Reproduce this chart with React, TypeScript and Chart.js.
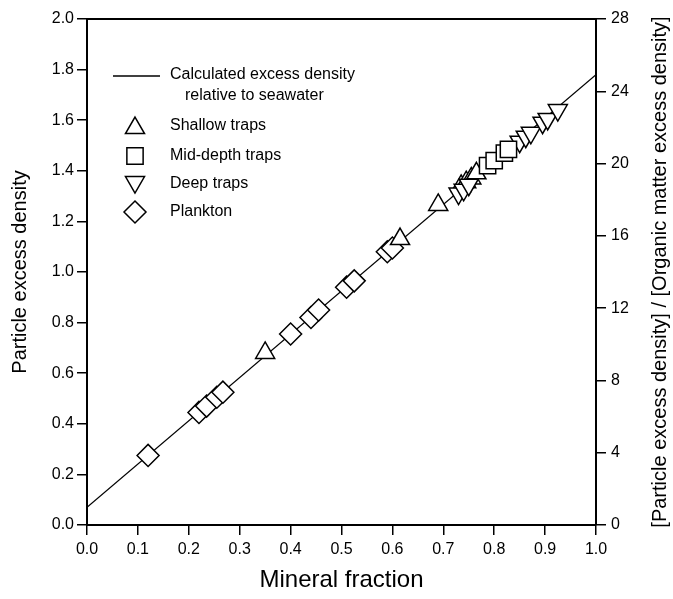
import React, { useEffect, useRef } from "react";
import { Chart, registerables } from "chart.js";

Chart.register(...registerables);

const FONT = "'Liberation Sans', Arial, Helvetica, sans-serif";

// Calculated excess density relative to seawater (straight line)
const fitX = [0, 1];
const fitY = [0.07, 1.78];

// Shallow traps
const shallowX = [0.35, 0.615, 0.69, 0.735, 0.745, 0.755, 0.765];
const shallowY = [0.68, 1.13, 1.265, 1.34, 1.355, 1.37, 1.39];

// Mid-depth traps
const midX = [0.787, 0.8, 0.82, 0.828];
const midY = [1.42, 1.44, 1.47, 1.485];

// Deep traps
const deepX = [0.73, 0.74, 0.75, 0.85, 0.862, 0.872, 0.895, 0.905, 0.925];
const deepY = [1.31, 1.325, 1.345, 1.515, 1.535, 1.55, 1.59, 1.605, 1.64];

// Plankton
const planktonX = [0.12, 0.22, 0.235, 0.255, 0.267, 0.4, 0.44, 0.455, 0.51, 0.525, 0.59, 0.6];
const planktonY = [0.275, 0.445, 0.47, 0.505, 0.525, 0.755, 0.82, 0.85, 0.94, 0.965, 1.08, 1.095];

// Axis ranges and labels
const xRange = [0, 1];
const xStep = 0.1;
const yRange = [0, 2];
const yStep = 0.2;
const ratioRange = [0, 28];
const ratioStep = 4;

const xTitle = "Mineral fraction";
const yTitle = "Particle excess density";
const ratioTitle = "[Particle excess density] / [Organic matter excess density]";

const legendLine = ["Calculated excess density", "relative to seawater"];
const legendMarks = ["Shallow traps", "Mid-depth traps", "Deep traps", "Plankton"];

const toPoints = (xs: number[], ys: number[]) => xs.map((x, i) => ({ x, y: ys[i] }));

function drawSymbol(ctx: CanvasRenderingContext2D, kind: string, x: number, y: number, r: number) {
  ctx.beginPath();
  if (kind === "up" || kind === "down") {
    const start = kind === "up" ? 0 : Math.PI;
    for (let k = 0; k < 3; k++) {
      const a = start + (k * 2 * Math.PI) / 3;
      const px = x + Math.sin(a) * r;
      const py = y - Math.cos(a) * r;
      if (k === 0) ctx.moveTo(px, py);
      else ctx.lineTo(px, py);
    }
  } else if (kind === "square") {
    const s = r * Math.SQRT1_2;
    ctx.rect(x - s, y - s, 2 * s, 2 * s);
  } else {
    ctx.moveTo(x, y - r);
    ctx.lineTo(x + r, y);
    ctx.lineTo(x, y + r);
    ctx.lineTo(x - r, y);
  }
  ctx.closePath();
  ctx.fillStyle = "#fff";
  ctx.fill();
  ctx.stroke();
}

const decorations = {
  id: "decorations",
  afterDraw(chart: any) {
    const { ctx, chartArea } = chart;
    const { left, right, top, bottom } = chartArea;
    ctx.save();

    // top frame line
    ctx.strokeStyle = "#000";
    ctx.lineWidth = 2;
    ctx.beginPath();
    ctx.moveTo(left - 1, top);
    ctx.lineTo(right + 1, top);
    ctx.stroke();

    // right-hand axis title, reading upward
    ctx.save();
    ctx.translate(right + 64, (top + bottom) / 2);
    ctx.rotate(-Math.PI / 2);
    ctx.fillStyle = "#000";
    ctx.font = `20px ${FONT}`;
    ctx.textAlign = "center";
    ctx.textBaseline = "middle";
    ctx.fillText(ratioTitle, 0, 0);
    ctx.restore();

    // legend
    ctx.fillStyle = "#000";
    ctx.font = `16px ${FONT}`;
    ctx.textAlign = "left";
    ctx.textBaseline = "middle";
    ctx.lineWidth = 1.3;
    ctx.beginPath();
    ctx.moveTo(left + 26, top + 57);
    ctx.lineTo(left + 73, top + 57);
    ctx.stroke();
    ctx.fillText(legendLine[0], left + 83, top + 56);
    ctx.fillText(legendLine[1], left + 98, top + 77);

    const kinds = ["up", "square", "down", "diamond"];
    const rows = [107, 137, 165, 193];
    ctx.lineWidth = 1.5;
    kinds.forEach((k, i) => {
      const r = k === "square" ? 11.5 : 11;
      drawSymbol(ctx, k, left + 48, top + rows[i] + (k === "up" ? 2 : k === "down" ? -2 : 0), r);
      ctx.fillStyle = "#000";
      ctx.fillText(legendMarks[i], left + 83, top + rows[i]);
    });
    ctx.restore();
  },
};

const markerBase = {
  showLine: false,
  backgroundColor: "#fff",
  borderColor: "#000",
  borderWidth: 1.5,
  pointBackgroundColor: "#fff",
  pointBorderColor: "#000",
  pointBorderWidth: 1.5,
};

export default function App() {
  const ref = useRef<HTMLCanvasElement | null>(null);

  useEffect(() => {
    if (!ref.current) return;
    const tickFont = { family: FONT, size: 16 };
    const tickGrid = {
      drawOnChartArea: false,
      drawTicks: true,
      tickLength: 10,
      color: "#000",
      lineWidth: 1.5,
    };
    const frame = { display: true, color: "#000", width: 2 };
    const chart = new Chart(ref.current, {
      type: "scatter",
      data: {
        datasets: [
          {
            label: "Plankton",
            data: toPoints(planktonX, planktonY),
            pointStyle: "rectRot",
            pointRadius: 11,
            order: 4,
            ...markerBase,
          },
          {
            label: "Shallow traps",
            data: toPoints(shallowX, shallowY),
            pointStyle: "triangle",
            pointRadius: 11,
            order: 3,
            ...markerBase,
          },
          {
            label: "Deep traps",
            data: toPoints(deepX, deepY),
            pointStyle: "triangle",
            pointRotation: 180,
            pointRadius: 11,
            order: 2,
            ...markerBase,
          },
          {
            label: "Mid-depth traps",
            data: toPoints(midX, midY),
            pointStyle: "rect",
            pointRadius: 11.5,
            order: 1,
            ...markerBase,
          },
          {
            label: "Calculated excess density",
            data: toPoints(fitX, fitY),
            showLine: true,
            borderColor: "#000",
            borderWidth: 1.3,
            pointRadius: 0,
            order: 10,
          },
        ],
      },
      options: {
        responsive: false,
        animation: false,
        events: [],
        layout: { padding: { top: 19, left: 0, right: 0, bottom: 0 } },
        plugins: {
          legend: { display: false },
          tooltip: { enabled: false },
        },
        scales: {
          x: {
            type: "linear",
            min: xRange[0],
            max: xRange[1],
            afterFit: (s: any) => {
              s.height = 74;
            },
            ticks: {
              stepSize: xStep,
              color: "#000",
              font: tickFont,
              padding: 5,
              maxRotation: 0,
              callback: (v: any) => Number(v).toFixed(1),
            },
            grid: tickGrid,
            border: frame,
            title: {
              display: true,
              text: xTitle,
              color: "#000",
              font: { family: FONT, size: 24 },
              padding: { top: 0, bottom: 4 },
            },
          },
          y: {
            type: "linear",
            position: "left",
            min: yRange[0],
            max: yRange[1],
            afterFit: (s: any) => {
              s.width = 87;
            },
            ticks: {
              stepSize: yStep,
              color: "#000",
              font: tickFont,
              padding: 3,
              callback: (v: any) => Number(v).toFixed(1),
            },
            grid: tickGrid,
            border: frame,
            title: {
              display: true,
              text: yTitle,
              color: "#000",
              font: { family: FONT, size: 20 },
              padding: { top: 8, bottom: 0 },
            },
          },
          y2: {
            type: "linear",
            position: "right",
            min: ratioRange[0],
            max: ratioRange[1],
            afterFit: (s: any) => {
              s.width = 77;
            },
            ticks: {
              stepSize: ratioStep,
              color: "#000",
              font: tickFont,
              padding: 5,
              callback: (v: any) => String(Math.round(Number(v))),
            },
            grid: tickGrid,
            border: frame,
            title: { display: false },
          },
        },
      },
      plugins: [decorations],
    } as any);
    return () => chart.destroy();
  }, []);

  return (
    <div style={{ position: "fixed", left: 0, top: 0, width: 673, height: 599, background: "#fff" }}>
      <canvas ref={ref} width={673} height={599} style={{ display: "block" }} />
    </div>
  );
}
